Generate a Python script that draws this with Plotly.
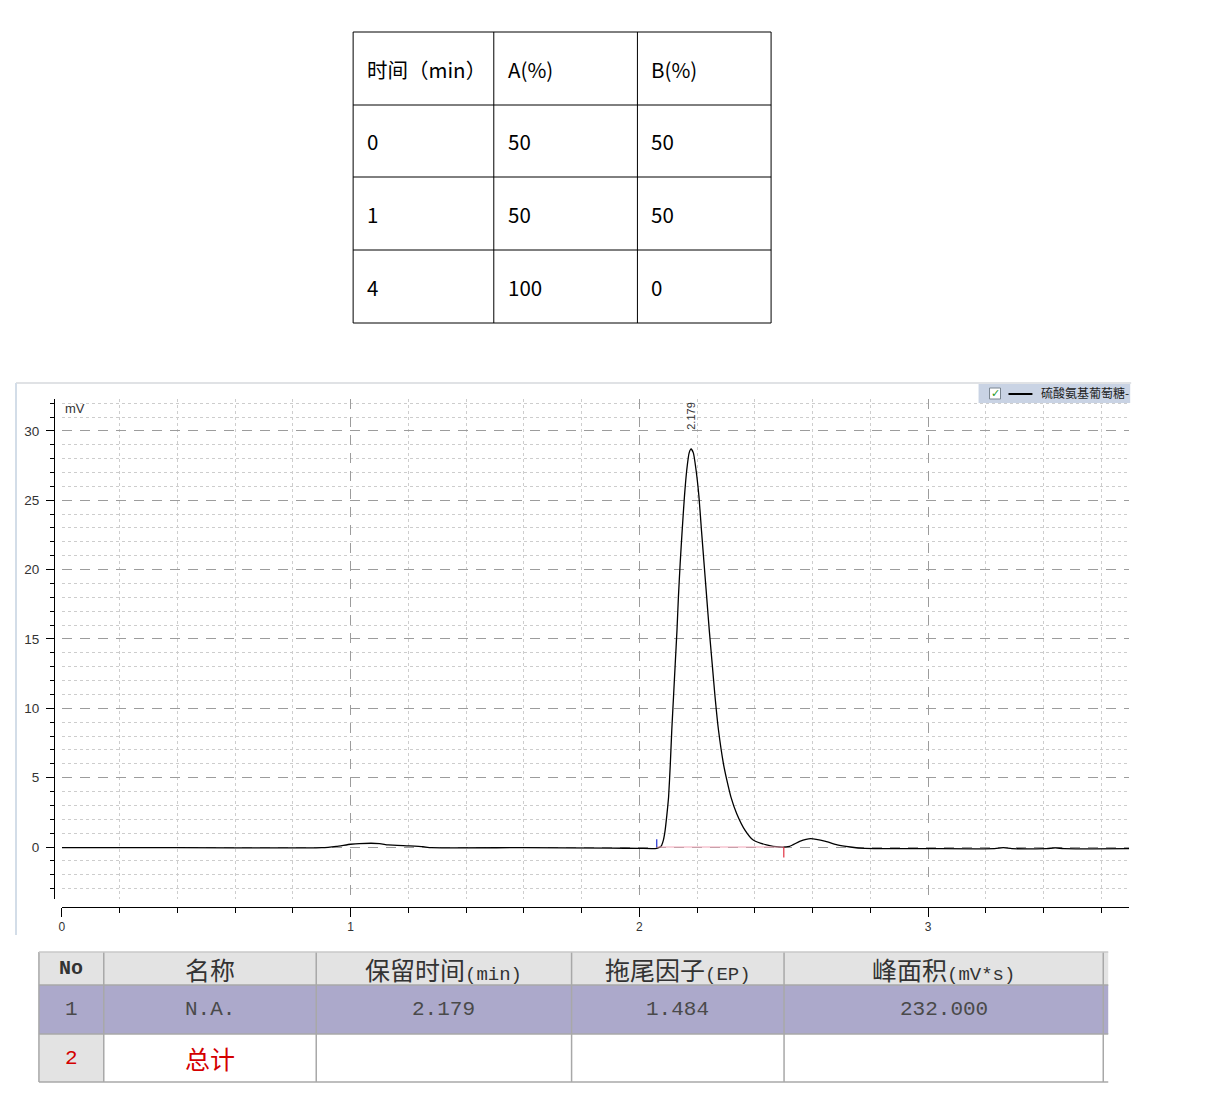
import plotly.graph_objects as go

# ---------------- data: gradient table ----------------
grad_header = ["时间（min）", "A(%)", "B(%)"]
grad_time = [0, 1, 4]
grad_a = [50, 50, 100]
grad_b = [50, 50, 0]

# ---------------- data: chromatogram ----------------
time_min = [0.00, 0.40, 0.80, 0.90, 0.95, 1.00, 1.03, 1.10, 1.13, 1.20, 1.25, 1.28,
            1.60, 1.90, 2.00, 2.06, 2.075, 2.083,
            2.089, 2.095, 2.101, 2.107, 2.112, 2.118, 2.124, 2.130, 2.135, 2.141,
            2.148, 2.156, 2.164, 2.172, 2.179,
            2.187, 2.196, 2.206, 2.215, 2.224, 2.233, 2.242, 2.252, 2.262, 2.274,
            2.291, 2.303, 2.317, 2.337, 2.366, 2.394, 2.440, 2.484,
            2.520, 2.555, 2.593, 2.645, 2.685, 2.730, 2.780, 3.000, 3.230, 3.260,
            3.290, 3.410, 3.440, 3.470, 3.696]
signal_mv = [-0.05, -0.05, -0.07, -0.05, 0.05, 0.20, 0.25, 0.25, 0.15, 0.08, 0.02, -0.05,
             -0.05, -0.08, -0.10, -0.10, 0.05, 0.50,
             1.2, 2.3, 3.6, 6.0, 8.4, 10.8, 13.2, 15.6, 18.0, 20.4,
             22.8, 25.3, 27.2, 28.4, 28.7,
             28.4, 27.2, 25.3, 22.8, 20.4, 18.0, 15.6, 13.2, 10.8, 8.4,
             6.0, 4.8, 3.6, 2.4, 1.2, 0.5, 0.15, 0.0,
             0.05, 0.40, 0.60, 0.40, 0.15, 0.00, -0.10, -0.12, -0.12, -0.05,
             -0.12, -0.12, -0.06, -0.12, -0.12]
peak_rt = 2.179
peak_label = "2.179"
peak_start = 2.06
peak_end = 2.50
legend_name = "硫酸氨基葡萄糖-"
y_unit = "mV"

# ---------------- data: results table ----------------
res_header = ["No", "名称", "保留时间", "拖尾因子", "峰面积", ""]
res_units = ["", "", "(min)", "(EP)", "(mV*s)", ""]
res_row1 = ["1", "N.A.", "2.179", "1.484", "232.000", ""]
res_row2 = ["2", "总计", "", "", "", ""]

# ---------------- layout helpers ----------------
# the page places the figure a few px in from the window edge
OFF_X, OFF_Y = 10, 8
W, H = 1195, 1096


def px(x):
    return (x - OFF_X) / W


def py(y):
    return 1 - (y - OFF_Y) / H


CJK = "Noto Sans CJK SC"
MONO = "Liberation Mono"
SANS = "Liberation Sans"

X0_PX, XEND_PX, PX_PER_MIN = 61, 1131, 289.5
Y0_PX, YTOP_PX, YBOT_PX, PX_PER_MV = 847, 399, 899, 13.87

fig = go.Figure()

fig.add_trace(go.Scatter(
    x=time_min, y=signal_mv, mode="lines",
    line=dict(color="black", width=1.3, shape="spline", smoothing=0.5),
    showlegend=False, hoverinfo="skip"))

shapes = []
annotations = []

# peak integration marks
shapes.append(dict(type="line", xref="x", yref="y", x0=peak_start, x1=peak_end, y0=0, y1=0,
                   line=dict(color="#f2a6b8", width=1)))
shapes.append(dict(type="line", xref="x", yref="y", x0=peak_start, x1=peak_start, y0=0, y1=0.55,
                   line=dict(color="#2030d0", width=1.2)))
shapes.append(dict(type="line", xref="x", yref="y", x0=peak_end, x1=peak_end, y0=0, y1=-0.75,
                   line=dict(color="#e03040", width=1.2)))

annotations.append(dict(x=peak_rt, y=31.1, xref="x", yref="y", text=peak_label, textangle=-90,
                        showarrow=False, font=dict(size=11, color="#333", family=SANS)))
annotations.append(dict(x=px(62), y=py(408), xref="paper", yref="paper", text=y_unit,
                        xanchor="left", yanchor="middle", showarrow=False,
                        font=dict(size=13, color="#333", family=SANS)))

# chart frame
shapes.append(dict(type="line", xref="paper", yref="paper", x0=px(15), x1=px(1133), y0=py(383), y1=py(383),
                   line=dict(color="#d6d9dd", width=1.5)))
shapes.append(dict(type="line", xref="paper", yref="paper", x0=px(15), x1=px(15), y0=py(383), y1=py(935),
                   line=dict(color="#d3dde8", width=2)))

# legend box
shapes.append(dict(type="rect", xref="paper", yref="paper", x0=px(980), x1=px(1132), y0=py(384), y1=py(403),
                   fillcolor="#c9d3e4", line=dict(width=0)))
shapes.append(dict(type="rect", xref="paper", yref="paper", x0=px(991), x1=px(1002), y0=py(388), y1=py(399),
                   fillcolor="white", line=dict(color="#7a8590", width=1)))
annotations.append(dict(x=px(996.5), y=py(393.5), xref="paper", yref="paper", text="<b>✓</b>", showarrow=False,
                        xanchor="center", yanchor="middle",
                        font=dict(size=11, color="#1f9a1f", family="DejaVu Sans")))
shapes.append(dict(type="line", xref="paper", yref="paper", x0=px(1010), x1=px(1034), y0=py(394), y1=py(394),
                   line=dict(color="black", width=2)))
annotations.append(dict(x=px(1041), y=py(392.5), xref="paper", yref="paper", text=legend_name,
                        xanchor="left", yanchor="middle", showarrow=False,
                        font=dict(size=12, color="#222", family=CJK)))

# ---------------- gradient table ----------------
g_cols = [353, 494, 638, 772]
g_rows = [32, 105, 177, 250, 323]
for xc in g_cols:
    shapes.append(dict(type="line", xref="paper", yref="paper", x0=px(xc), x1=px(xc),
                       y0=py(g_rows[0]), y1=py(g_rows[-1]), line=dict(color="black", width=1)))
for yr in g_rows:
    shapes.append(dict(type="line", xref="paper", yref="paper", x0=px(g_cols[0]), x1=px(g_cols[-1]),
                       y0=py(yr), y1=py(yr), line=dict(color="black", width=1)))
grad_rows = [grad_header] + [[str(t), str(a), str(b)] for t, a, b in zip(grad_time, grad_a, grad_b)]
for r, row in enumerate(grad_rows):
    yc = (g_rows[r] + g_rows[r + 1]) / 2
    for c, txt in enumerate(row):
        annotations.append(dict(x=px(g_cols[c] + 12), y=py(yc), xref="paper", yref="paper", text=txt,
                                xanchor="left", yanchor="middle", showarrow=False,
                                font=dict(size=20.5, color="black", family=CJK)))

# ---------------- results table ----------------
r_cols = [38, 103, 316, 572, 785, 1105, 1110]
r_rows = [952, 985, 1034, 1082]
HEAD_FILL, ROW1_FILL, GRAY_FILL = "#e3e3e3", "#aca9cb", "#e3e3e3"
for c in range(len(r_cols) - 1):
    fills = [HEAD_FILL, ROW1_FILL, GRAY_FILL if c == 0 else "white"]
    for r in range(3):
        shapes.append(dict(type="rect", xref="paper", yref="paper", x0=px(r_cols[c]), x1=px(r_cols[c + 1]),
                           y0=py(r_rows[r]), y1=py(r_rows[r + 1]), fillcolor=fills[r], line=dict(width=0)))
for xc in r_cols[:-1]:
    shapes.append(dict(type="line", xref="paper", yref="paper", x0=px(xc), x1=px(xc),
                       y0=py(r_rows[0]), y1=py(r_rows[-1]), line=dict(color="#a8a8a8", width=1.5)))
for i, yr in enumerate(r_rows):
    shapes.append(dict(type="line", xref="paper", yref="paper", x0=px(r_cols[0]), x1=px(r_cols[-1]),
                       y0=py(yr), y1=py(yr), line=dict(color="#c8c8c8" if i == 0 else "#a8a8a8", width=1.5)))

for c in range(len(r_cols) - 1):
    xc = (r_cols[c] + r_cols[c + 1]) / 2
    if c == 0:
        head_txt = "<span style='font-family:%s'><b>%s</b></span>" % (MONO, res_header[c])
        hsize = 20
    else:
        head_txt = res_header[c]
        if res_units[c]:
            head_txt += "<span style='font-family:%s;font-size:19px'>%s</span>" % (MONO, res_units[c])
        hsize = 25
    annotations.append(dict(x=px(xc), y=py((r_rows[0] + r_rows[1]) / 2), xref="paper", yref="paper",
                            text=head_txt, showarrow=False, xanchor="center", yanchor="middle",
                            font=dict(size=hsize, color="#333", family=CJK)))
    if res_row1[c]:
        annotations.append(dict(x=px(xc), y=py((r_rows[1] + r_rows[2]) / 2), xref="paper", yref="paper",
                                text=res_row1[c], showarrow=False, xanchor="center", yanchor="middle",
                                font=dict(size=21, color="#4a4a4a", family=MONO)))
    if res_row2[c]:
        annotations.append(dict(x=px(xc), y=py((r_rows[2] + r_rows[3]) / 2), xref="paper", yref="paper",
                                text=res_row2[c], showarrow=False, xanchor="center", yanchor="middle",
                                font=dict(size=25 if c else 21, color="#d40000",
                                          family=CJK if c else MONO)))

fig.update_layout(
    width=W, height=H, margin=dict(l=0, r=0, t=0, b=0),
    paper_bgcolor="white", plot_bgcolor="white",
    showlegend=False, shapes=shapes, annotations=annotations,
    xaxis=dict(domain=[px(X0_PX), px(XEND_PX)],
               range=[0, (XEND_PX - X0_PX) / PX_PER_MIN],
               anchor="free", position=py(907),
               showline=True, linecolor="black", linewidth=1,
               ticks="outside", ticklen=9, tickcolor="black", tickwidth=1,
               tick0=0, dtick=1, zeroline=False,
               showgrid=True, gridcolor="#9c9c9c", griddash="10px,8px", gridwidth=1,
               minor=dict(tick0=0, dtick=0.2, ticks="outside", ticklen=5, tickcolor="black",
                          showgrid=True, gridcolor="#cdcdcd", griddash="3px,3px", gridwidth=1),
               tickfont=dict(size=12, color="#333", family=SANS), fixedrange=True),
    yaxis=dict(domain=[py(YBOT_PX), py(YTOP_PX)],
               range=[(Y0_PX - YBOT_PX) / PX_PER_MV, (Y0_PX - YTOP_PX) / PX_PER_MV],
               anchor="free", position=px(53), side="left",
               showline=True, linecolor="black", linewidth=1,
               ticks="outside", ticklen=8, tickcolor="black", tickwidth=1,
               tick0=0, dtick=5, zeroline=False,
               showgrid=True, gridcolor="#9c9c9c", griddash="10px,8px", gridwidth=1,
               minor=dict(tick0=0, dtick=1, ticks="outside", ticklen=4, tickcolor="black",
                          showgrid=True, gridcolor="#cdcdcd", griddash="3px,3px", gridwidth=1),
               ticklabelstandoff=4,
               tickfont=dict(size=13.5, color="#333", family=SANS), fixedrange=True),
)

fig.write_html("out.html", config={"displayModeBar": False})
